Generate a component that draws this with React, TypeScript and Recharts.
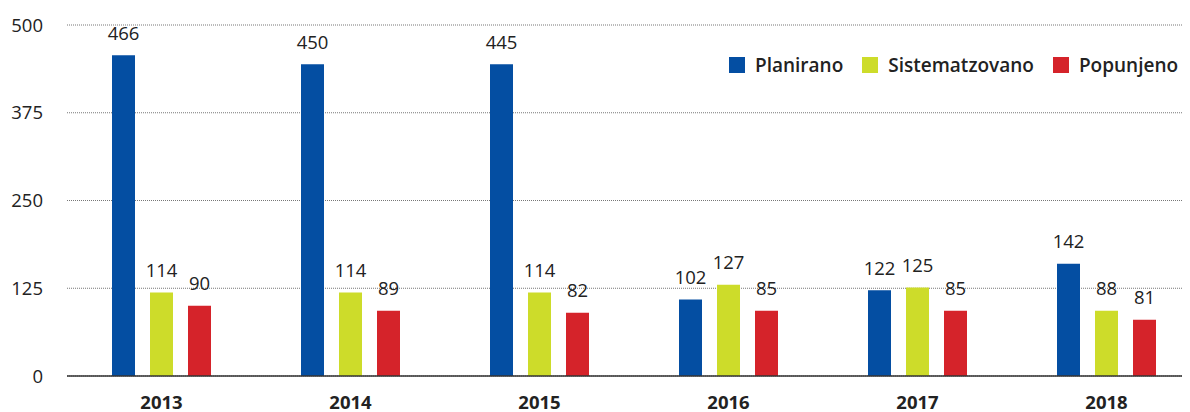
import React from 'react';
import { BarChart, Bar, XAxis, YAxis, CartesianGrid, LabelList } from 'recharts';

const years = ['2013', '2014', '2015', '2016', '2017', '2018'];
const planirano = [457, 444, 444, 109, 122, 160];
const sistematzovano = [119, 119, 119, 130, 126, 93];
const popunjeno = [100, 93, 90, 93, 93, 80];
const planiranoLabels = ['466', '450', '445', '102', '122', '142'];
const sistematzovanoLabels = ['114', '114', '114', '127', '125', '88'];
const popunjenoLabels = ['90', '89', '82', '85', '85', '81'];
const yTicks = [0, 125, 250, 375, 500];

const seriesNames = ['Planirano', 'Sistematzovano', 'Popunjeno'];
const colors = ['#044ea2', '#cddc2a', '#d5232a'];

const data = years.map((y, i) => ({
  year: y,
  Planirano: planirano[i],
  Sistematzovano: sistematzovano[i],
  Popunjeno: popunjeno[i],
}));

const FONT = '"Open Sans", "Noto Sans", sans-serif';
const FS = 18.5;

const makeLabel = (labels: string[]) => (props: any) => {
  const { x, y, width, index } = props;
  return (
    <text
      x={Number(x) + Number(width) / 2}
      y={Number(y) - 15.5}
      textAnchor="middle"
      fill="#222"
      fontSize={FS}
      fontFamily={FONT}
    >
      {labels[index]}
    </text>
  );
};

export default function App() {
  const labelSets = [planiranoLabels, sistematzovanoLabels, popunjenoLabels];
  return (
    <div style={{ width: 1182, height: 404, overflow: 'hidden', position: 'relative' }}>
      <BarChart
        width={1200}
        height={404}
        data={data}
        margin={{ top: 17, right: 7, bottom: 6, left: 0 }}
        barCategoryGap={45}
        barGap={15}
        barSize={23}
      >
        <CartesianGrid vertical={false} stroke="#777" strokeDasharray="1 1" />
        <XAxis
          dataKey="year"
          axisLine={{ stroke: '#333', strokeWidth: 1.5 }}
          tickLine={false}
          tickSize={0}
          tickMargin={19.5}
          height={30}
          tick={{ fill: '#222', fontSize: FS, fontWeight: 700, fontFamily: FONT }}
        />
        <YAxis
          domain={[0, 500]}
          ticks={yTicks}
          axisLine={false}
          tickLine={false}
          tickSize={0}
          tickMargin={24}
          width={59}
          interval={0}
          tick={{ fill: '#222', fontSize: FS, fontFamily: FONT }}
        />
        {seriesNames.map((n, i) => (
          <Bar key={n} dataKey={n} fill={colors[i]} isAnimationActive={false}>
            <LabelList dataKey={n} content={makeLabel(labelSets[i])} />
          </Bar>
        ))}
      </BarChart>
      <div
        style={{
          position: 'absolute',
          left: 721,
          top: 46,
          display: 'flex',
          alignItems: 'center',
          fontFamily: FONT,
          fontSize: 19,
          fontWeight: 600,
          color: '#222',
          lineHeight: '22px',
        }}
      >
        {seriesNames.map((n, i) => (
          <div key={n} style={{ display: 'flex', alignItems: 'center', marginRight: 19 }}>
            <div style={{ width: 16, height: 16, background: colors[i], marginRight: 10 }} />
            <span>{n}</span>
          </div>
        ))}
      </div>
    </div>
  );
}
